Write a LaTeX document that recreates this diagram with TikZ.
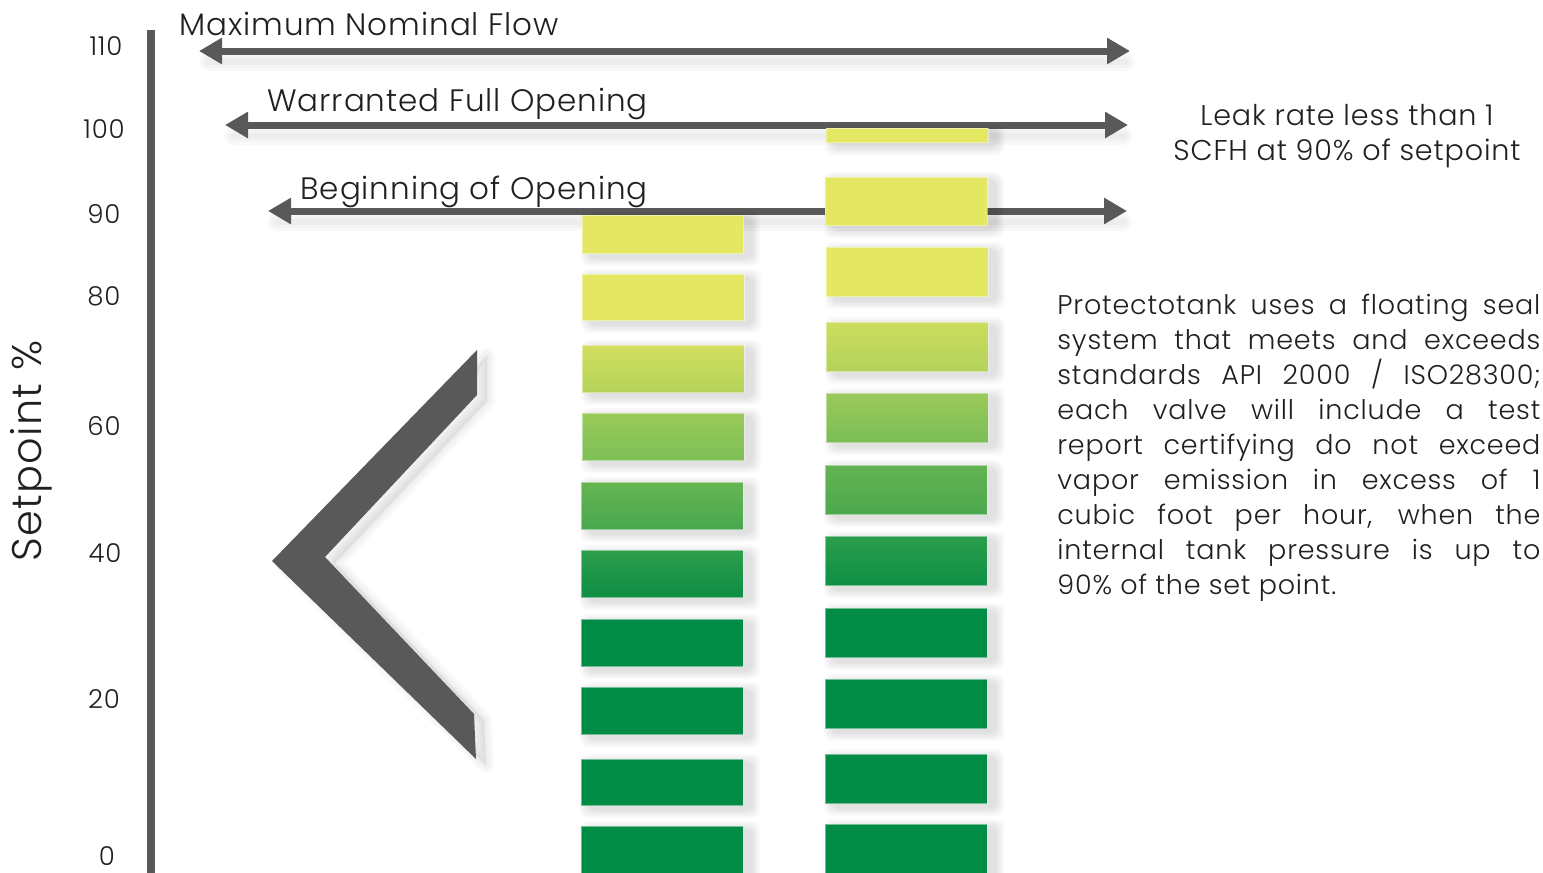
\documentclass[tikz,border=0pt]{standalone}
\usepackage{fontspec}
\setmainfont{Poppins Light}[LetterSpace=3]
\usetikzlibrary{arrows.meta}
\definecolor{dk}{HTML}{595959}
\definecolor{txt}{HTML}{231F20}
\definecolor{yl}{HTML}{E4E762}
\definecolor{gr}{HTML}{008C44}
\definecolor{aT}{RGB}{210,222,94}\definecolor{aB}{RGB}{180,211,90}
\definecolor{bT}{RGB}{154,202,88}\definecolor{bB}{RGB}{125,191,87}
\definecolor{cT}{RGB}{103,181,82}\definecolor{cB}{RGB}{72,168,79}
\definecolor{dT}{RGB}{45,158,76}\definecolor{dB}{RGB}{14,142,68}
\definecolor{eT}{RGB}{205,221,93}\definecolor{eB}{RGB}{178,210,90}
\definecolor{fT}{RGB}{154,201,90}\definecolor{fB}{RGB}{123,190,86}
\definecolor{gT}{RGB}{100,179,82}\definecolor{gB}{RGB}{75,168,78}
\definecolor{hT}{RGB}{43,158,76}\definecolor{hB}{RGB}{14,143,69}
\newcommand\softshadow[4]{%
  \foreach \kk in {0,...,5}{%
    \fill[black,opacity=0.02,rounded corners=4pt]
      ({#1+8-9+1.5*\kk},{#2+4-9+1.5*\kk}) rectangle ({#3+8+9-1.5*\kk},{#4+4+9-1.5*\kk});}}
\newcommand\gbar[7]{%
  \softshadow{#2}{#3}{#4}{#5}
  \node[barbox, top color=#6, bottom color=#7,
        minimum width={(#4-#2)*0.5pt}, minimum height={(#5-#3)*0.5pt}]
        (#1) at ({(#2+#4)/2},{(#3+#5)/2}) {};}
\newcommand\arrshadow[3]{%
  \foreach \ww in {9,6,3}{%
    \draw[black,opacity=0.025,line width=\ww pt,line cap=round] ({#1+8},{#3+11}) -- ({#2-4},{#3+11});}}
\begin{document}
\begin{tikzpicture}[x=0.5pt,y=-0.5pt,
  lbl/.style={font=\fontsize{15.5}{18}\selectfont, text=txt, inner sep=0, anchor=base west},
  tick/.style={font=\fontsize{13}{15}\selectfont, text=txt, inner sep=0},
  barbox/.style={inner sep=0, outer sep=0, draw=white, draw opacity=0.45, line width=0.5pt},
  arr/.style={draw=dk, line width=3.5pt,
    {Triangle[length=11.5pt,width=12.5pt]}-{Triangle[length=11.5pt,width=12.5pt]}}]
\clip (0,0) rectangle (1543,873);
\fill[white] (0,0) rectangle (1543,873);

% axis
\coordinate (axtop) at (151,30);
\coordinate (axbot) at (151,885);
\draw[dk, line width=4pt] (axtop) -- (axbot);
\node[tick] (t110) at (106,46) {110};
\node[tick] (t100) at (104,129) {100};
\node[tick] (t90) at (104,214) {90};
\node[tick] (t80) at (104,296) {80};
\node[tick] (t60) at (104,426) {60};
\node[tick] (t40) at (105,553) {40};
\node[tick] (t20) at (104,699) {20};
\node[tick] (t0) at (107,856) {0};
\node[rotate=90, font=\fontsize{20.7}{24}\selectfont, text=txt, inner sep=0] (ylab) at (31,451) {Setpoint \%};

% arrows
\arrshadow{200}{1130}{51}
\arrshadow{225}{1128}{125}
\arrshadow{268}{1127}{211}
\coordinate (a1l) at (199,51); \coordinate (a1r) at (1130,51);
\coordinate (a2l) at (225,125); \coordinate (a2r) at (1128,125);
\coordinate (a3l) at (268,211); \coordinate (a3r) at (1127,211);
\draw[arr] (a1l) -- (a1r);
\draw[arr] (a2l) -- (a2r);
\draw[arr] (a3l) -- (a3r);
\node[lbl] (l1) at (179,35) {Maximum Nominal Flow};
\node[lbl] (l2) at (267,111) {Warranted Full Opening};
\node[lbl] (l3) at (300,199) {Beginning of Opening};

% chevron
\foreach \ww in {8,5,2}{%
  \draw[black,opacity=0.025,line width=\ww pt,line join=round,fill=black,fill opacity=0.02]
    (487,356) -- (284,566) -- (486,765) -- (484,720) -- (335,563) -- (487,401) -- cycle;}
\fill[dk] (477,350) -- (272,561) -- (476,759) -- (474,714) -- (325,557) -- (477,395) -- cycle;

% column 1
\gbar{c1a}{582}{215}{743}{253}{yl}{yl}
\gbar{c1b}{582}{274}{744}{320}{yl}{yl}
\gbar{c1c}{582}{345}{744}{392}{aT}{aB}
\gbar{c1d}{582}{413}{744}{460}{bT}{bB}
\gbar{c1e}{581}{482}{743}{529}{cT}{cB}
\gbar{c1f}{581}{550}{743}{597}{dT}{dB}
\gbar{c1g}{581}{619}{743}{666}{gr}{gr}
\gbar{c1h}{581}{687}{743}{734}{gr}{gr}
\gbar{c1i}{581}{759}{743}{805}{gr}{gr}
\gbar{c1j}{581}{826}{743}{885}{gr}{gr}
% column 2
\gbar{c2a}{826}{128}{988}{142}{yl}{yl}
\gbar{c2b}{825}{177}{987}{225}{yl}{yl}
\gbar{c2c}{826}{247}{988}{296}{yl}{yl}
\gbar{c2d}{826}{322}{988}{371}{eT}{eB}
\gbar{c2e}{826}{393}{988}{442}{fT}{fB}
\gbar{c2f}{825}{465}{987}{514}{gT}{gB}
\gbar{c2g}{825}{536}{987}{585}{hT}{hB}
\gbar{c2h}{825}{608}{987}{657}{gr}{gr}
\gbar{c2i}{825}{679}{987}{728}{gr}{gr}
\gbar{c2j}{825}{754}{987}{803}{gr}{gr}
\gbar{c2k}{825}{824}{987}{885}{gr}{gr}

% texts
\node[align=center, inner sep=0, text=txt, font=\fontsize{14.3}{17.5}\selectfont] (leak) at (1347,136)
  {Leak rate less than 1\\SCFH at 90\% of setpoint};
\node[anchor=north west, inner sep=0, text=txt, font=\fontsize{13.5}{17.5}\selectfont] (para) at (1057,294)
  {\parbox{241.5pt}{Protectotank uses a floating seal\linebreak
  system that meets and exceeds\linebreak
  standards API 2000 / ISO28300;\linebreak
  each valve will include a test\linebreak
  report certifying do not exceed\linebreak
  vapor emission in excess of 1\linebreak
  cubic foot per hour, when the\linebreak
  internal tank pressure is up to\linebreak
  90\% of the set point.}};
\end{tikzpicture}
\end{document}
